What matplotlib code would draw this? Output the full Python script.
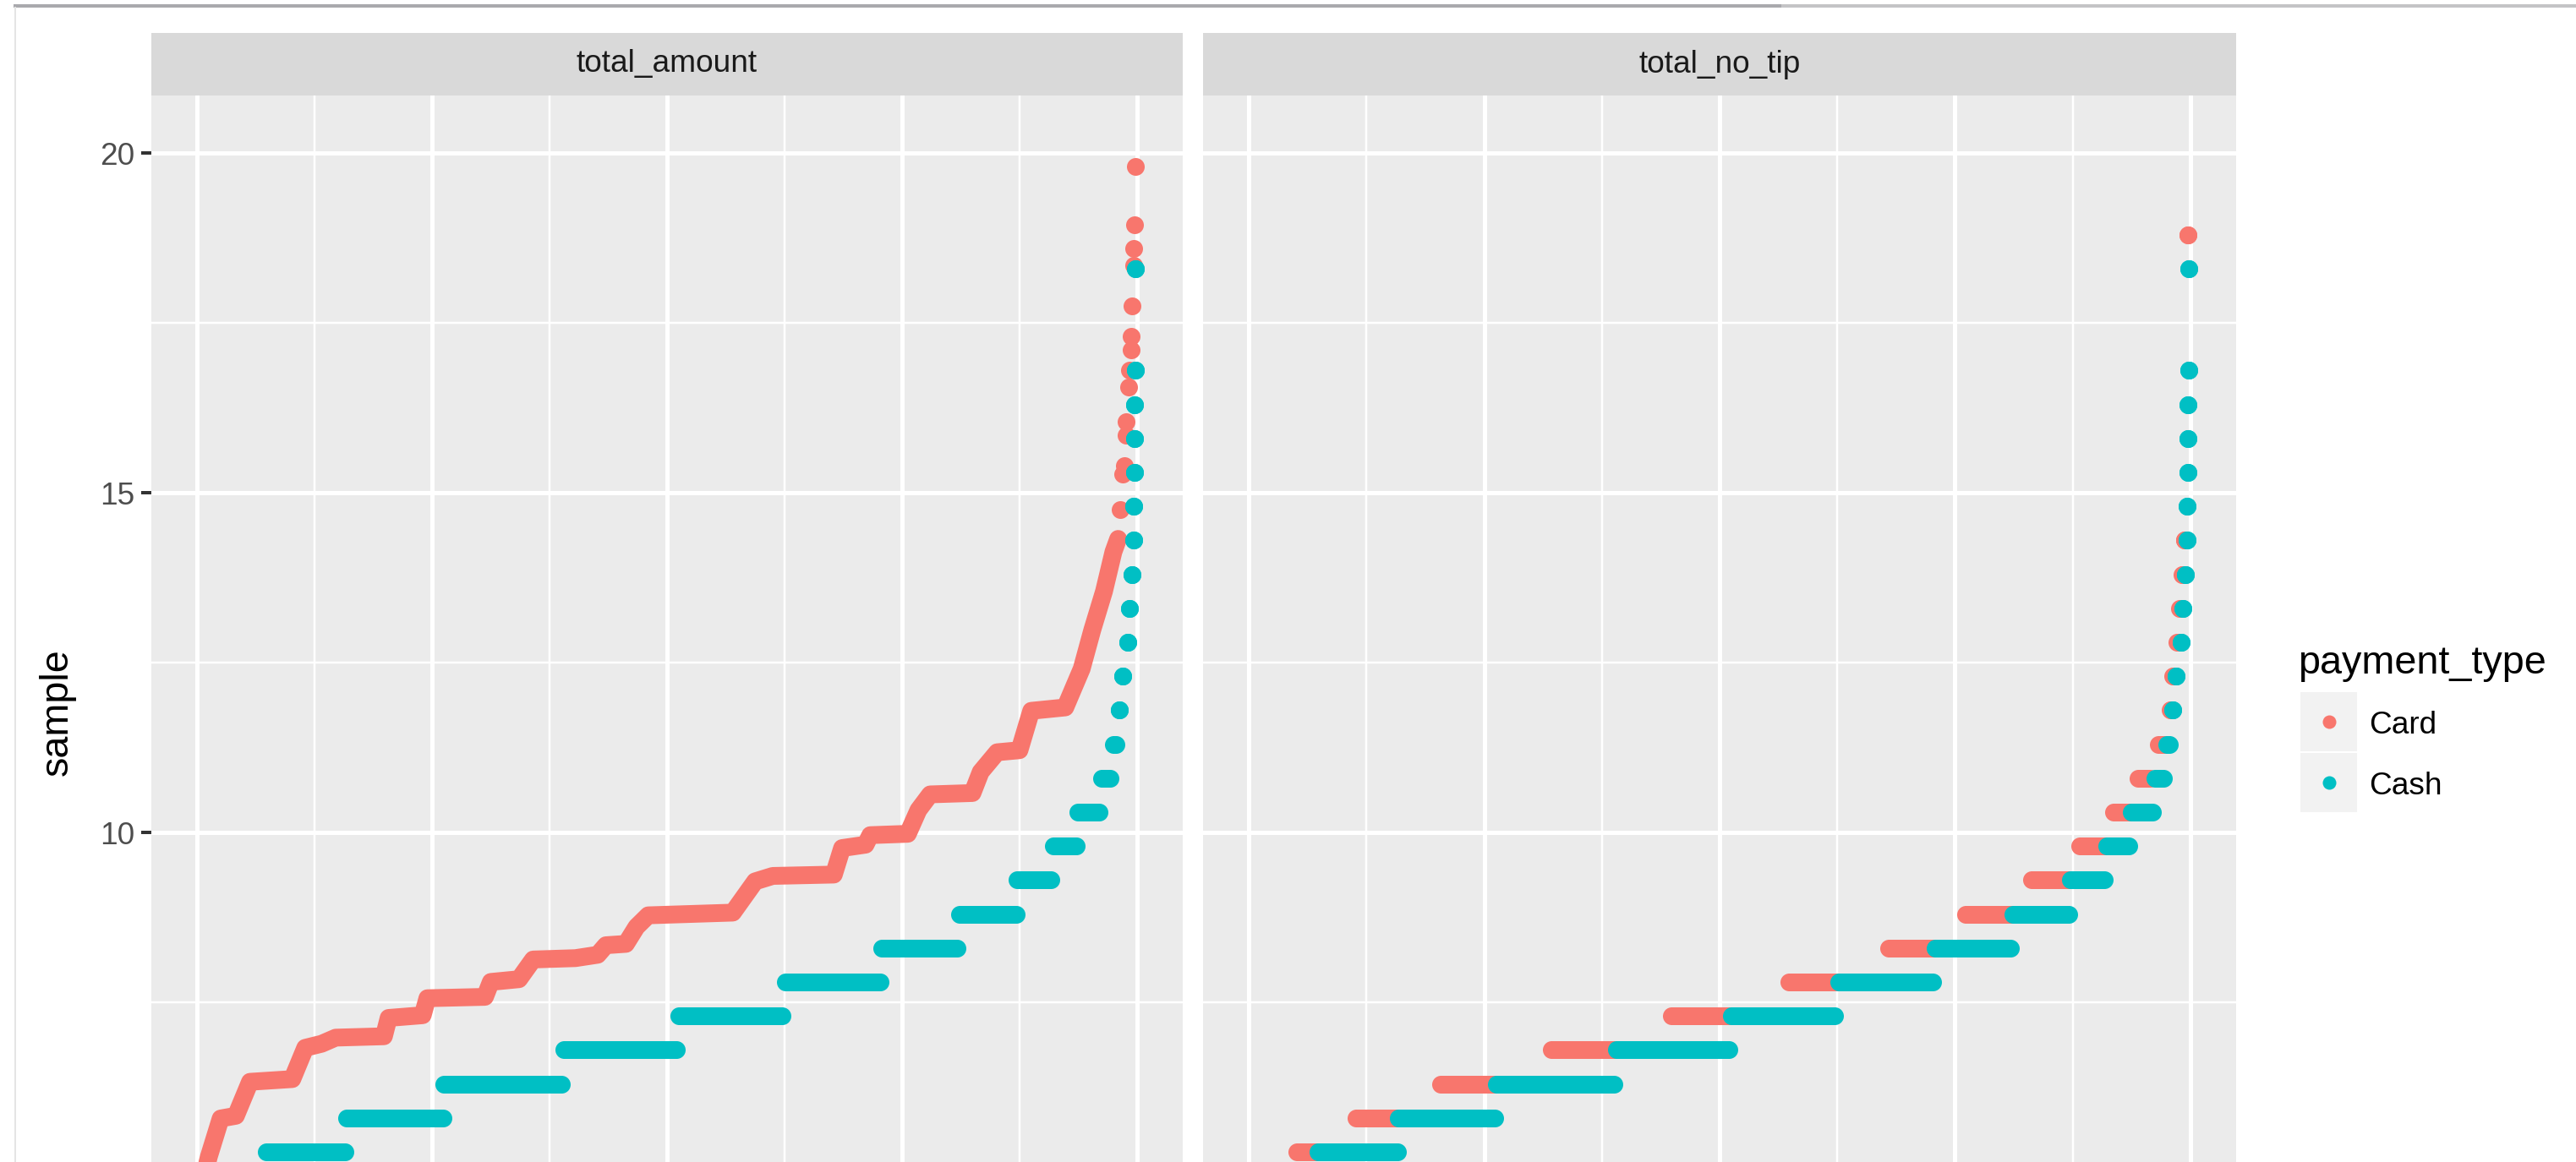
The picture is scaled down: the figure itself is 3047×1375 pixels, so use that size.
"""QQ plot of taxi fares by payment type, faceted by total_amount / total_no_tip."""

import matplotlib.pyplot as plt
from matplotlib.lines import Line2D
from matplotlib.patches import Rectangle

plt.rcParams["font.family"] = ["Liberation Sans", "DejaVu Sans"]

W, H, DPI = 3047, 1375, 100

CARD = "#F8766D"
CASH = "#00BFC4"

FACETS = ["total_amount", "total_no_tip"]
PAYMENT_TYPES = ["Card", "Cash"]
Y_MAJOR = [5, 10, 15, 20]
Y_MINOR = [7.5, 12.5, 17.5]
X_MAJOR = [-4, -2, 0, 2, 4]
X_MINOR = [-3, -1, 1, 3]

# cash: no tip, so both facets share the same runs (sample value, first and last theoretical quantile)
CASH_LEVEL = [5.3, 5.8, 6.3, 6.8, 7.3, 7.8, 8.3, 8.8, 9.3, 9.8, 10.3, 10.8, 11.3,
              11.8, 12.3, 12.8, 13.3, 13.8, 14.3, 14.8, 15.3, 15.8, 16.3, 16.8, 18.3]
CASH_FIRST = [-3.41, -2.73, -1.90, -0.88, 0.10, 1.01, 1.83, 2.49, 2.98, 3.29, 3.50, 3.70, 3.80,
              3.85, 3.88, 3.92, 3.94, 3.96, 3.97, 3.97, 3.98, 3.98, 3.98, 3.99, 3.99]
CASH_LAST = [-2.74, -1.91, -0.90, 0.08, 0.98, 1.81, 2.47, 2.97, 3.27, 3.48, 3.68, 3.77, 3.82,
             3.85, 3.88, 3.92, 3.94, 3.96, 3.97, 3.97, 3.98, 3.98, 3.98, 3.99, 3.99]

# card, total_amount: dense staircase of quantiles, then the sparse upper tail
CARD_TOTAL_X = [-4.02, -3.90, -3.80, -3.67, -3.55, -3.19, -3.08, -2.94, -2.82, -2.41, -2.37,
                -2.08, -2.04, -1.55, -1.50, -1.26, -1.14, -0.78, -0.59, -0.52, -0.35, -0.26,
                -0.16, 0.56, 0.75, 0.90, 1.42, 1.49, 1.69, 1.73, 2.05, 2.14, 2.24, 2.60, 2.67,
                2.81, 3.00, 3.10, 3.39, 3.53, 3.62, 3.72, 3.80, 3.84]
CARD_TOTAL_Y = [4.40, 5.23, 5.79, 5.83, 6.33, 6.37, 6.83, 6.89, 6.98, 7.00, 7.27,
                7.31, 7.56, 7.58, 7.80, 7.84, 8.13, 8.15, 8.20, 8.34, 8.36, 8.61,
                8.78, 8.82, 9.28, 9.36, 9.38, 9.77, 9.82, 9.96, 9.98, 10.33, 10.56, 10.58, 10.89,
                11.18, 11.21, 11.79, 11.84, 12.41, 12.98, 13.55, 14.13, 14.32]
CARD_TAIL_X = [3.86, 3.88, 3.89, 3.91, 3.91, 3.93, 3.94, 3.95, 3.95, 3.96, 3.97, 3.97, 3.98, 3.99]
CARD_TAIL_Y = [14.75, 15.27, 15.40, 15.85, 16.05, 16.56, 16.80, 17.10, 17.30, 17.75, 18.35,
               18.59, 18.94, 19.80]

# card, total_no_tip: runs at the same fare steps as cash
CARD_NOTIP_LEVEL = [5.3, 5.8, 6.3, 6.8, 7.3, 7.8, 8.3, 8.8, 9.3, 9.8, 10.3, 10.8, 11.3,
                    11.8, 12.3, 12.8, 13.3, 13.8, 14.3, 18.8]
CARD_NOTIP_FIRST = [-3.59, -3.09, -2.37, -1.43, -0.41, 0.59, 1.44, 2.09, 2.65, 3.06, 3.35, 3.56,
                    3.73, 3.83, 3.85, 3.89, 3.91, 3.93, 3.95, 3.98]
CARD_NOTIP_LAST = [-3.30, -2.50, -1.60, -0.70, 0.30, 1.20, 1.95, 2.60, 3.00, 3.30, 3.50, 3.66,
                   3.78, 3.84, 3.86, 3.90, 3.92, 3.94, 3.95, 3.98]

PT = 72 / DPI           # points per pixel
DOT = 21 * PT           # point diameter
SMALL = 37 * PT         # axis / strip / legend text
TITLE = 46.8 * PT       # axis and legend titles


def fx(px):
    return px / W


def fy(py):
    return 1 - py / H


def runs(ax, levels, first, last, color):
    # each run of tied values is a row of overlapping points
    for y, a, b in zip(levels, first, last):
        ax.plot([a, b], [y, y], color=color, lw=DOT, solid_capstyle="butt", zorder=3)
        ax.scatter([a, b], [y, y], s=DOT ** 2, color=color, linewidths=0, zorder=3)


fig = plt.figure(figsize=(W / DPI, H / DPI), dpi=DPI)
fig.patch.set_facecolor("white")

panel_top, panel_bottom = 113, 1557
columns = [(179, 1399), (1423, 2645)]
axes = []
for i, (x0, x1) in enumerate(columns):
    ax = fig.add_axes([fx(x0), fy(panel_bottom), (x1 - x0) / W, (panel_bottom - panel_top) / H])
    ax.set_facecolor("#EBEBEB")
    ax.set_xlim(-4.39, 4.39)
    ax.set_ylim(2.886, 20.846)
    for s in ax.spines.values():
        s.set_visible(False)
    ax.set_xticks(X_MAJOR)
    ax.set_xticks(X_MINOR, minor=True)
    ax.set_yticks(Y_MAJOR)
    ax.set_yticks(Y_MINOR, minor=True)
    ax.set_axisbelow(True)
    ax.grid(which="major", color="white", lw=5 * PT)
    ax.grid(which="minor", color="white", lw=2.5 * PT)
    ax.tick_params(axis="x", which="both", length=0, labelbottom=False)
    ax.tick_params(axis="y", which="minor", length=0)
    if i == 0:
        ax.tick_params(axis="y", which="major", length=12 * PT, width=4 * PT, color="#333333",
                       pad=8 * PT, labelsize=SMALL, labelcolor="#4D4D4D")
    else:
        ax.tick_params(axis="y", which="major", length=0, labelleft=False)
    # facet strip
    fig.add_artist(Rectangle((fx(x0), fy(panel_top)), (x1 - x0) / W, 74 / H,
                             transform=fig.transFigure, color="#D9D9D9", lw=0))
    fig.text(fx((x0 + x1) / 2), fy(76), FACETS[i], ha="center", va="center",
             fontsize=SMALL, color="#1A1A1A")
    axes.append(ax)

ax_total, ax_notip = axes

ax_total.plot(CARD_TOTAL_X, CARD_TOTAL_Y, color=CARD, lw=DOT,
              solid_joinstyle="round", solid_capstyle="round", zorder=3)
ax_total.scatter(CARD_TAIL_X, CARD_TAIL_Y, s=DOT ** 2, color=CARD, linewidths=0, zorder=3)
runs(ax_total, CASH_LEVEL, CASH_FIRST, CASH_LAST, CASH)

runs(ax_notip, CARD_NOTIP_LEVEL, CARD_NOTIP_FIRST, CARD_NOTIP_LAST, CARD)
runs(ax_notip, CASH_LEVEL, CASH_FIRST, CASH_LAST, CASH)

fig.text(fx(68), fy(843), "sample", rotation=90, ha="center", va="center",
         fontsize=TITLE, color="black")

# legend
fig.text(fx(2718), fy(797), "payment_type", ha="left", va="baseline", fontsize=TITLE)
for j, (label, color) in enumerate(zip(PAYMENT_TYPES, [CARD, CASH])):
    cy = 854 + 72 * j
    fig.add_artist(Rectangle((fx(2721), fy(cy + 35)), 67 / W, 70 / H,
                             transform=fig.transFigure, color="#F2F2F2", lw=0))
    fig.add_artist(Line2D([fx(2755)], [fy(cy)], marker="o", markersize=16 * PT,
                          color=color, markeredgewidth=0, transform=fig.transFigure))
    fig.text(fx(2802), fy(cy), label, ha="left", va="center_baseline", fontsize=SMALL)

# window frame lines
fig.add_artist(Line2D([fx(18), fx(2109)], [fy(7), fy(7)], color="#A9A9AD", lw=4 * PT,
                      transform=fig.transFigure))
fig.add_artist(Line2D([fx(2109), 1], [fy(7), fy(7)], color="#C4C4C6", lw=4 * PT,
                      transform=fig.transFigure))
fig.add_artist(Line2D([fx(18), fx(18)], [fy(9), 0], color="#E4E4E4", lw=2 * PT,
                      transform=fig.transFigure))

fig.savefig("out.png", dpi=DPI)
